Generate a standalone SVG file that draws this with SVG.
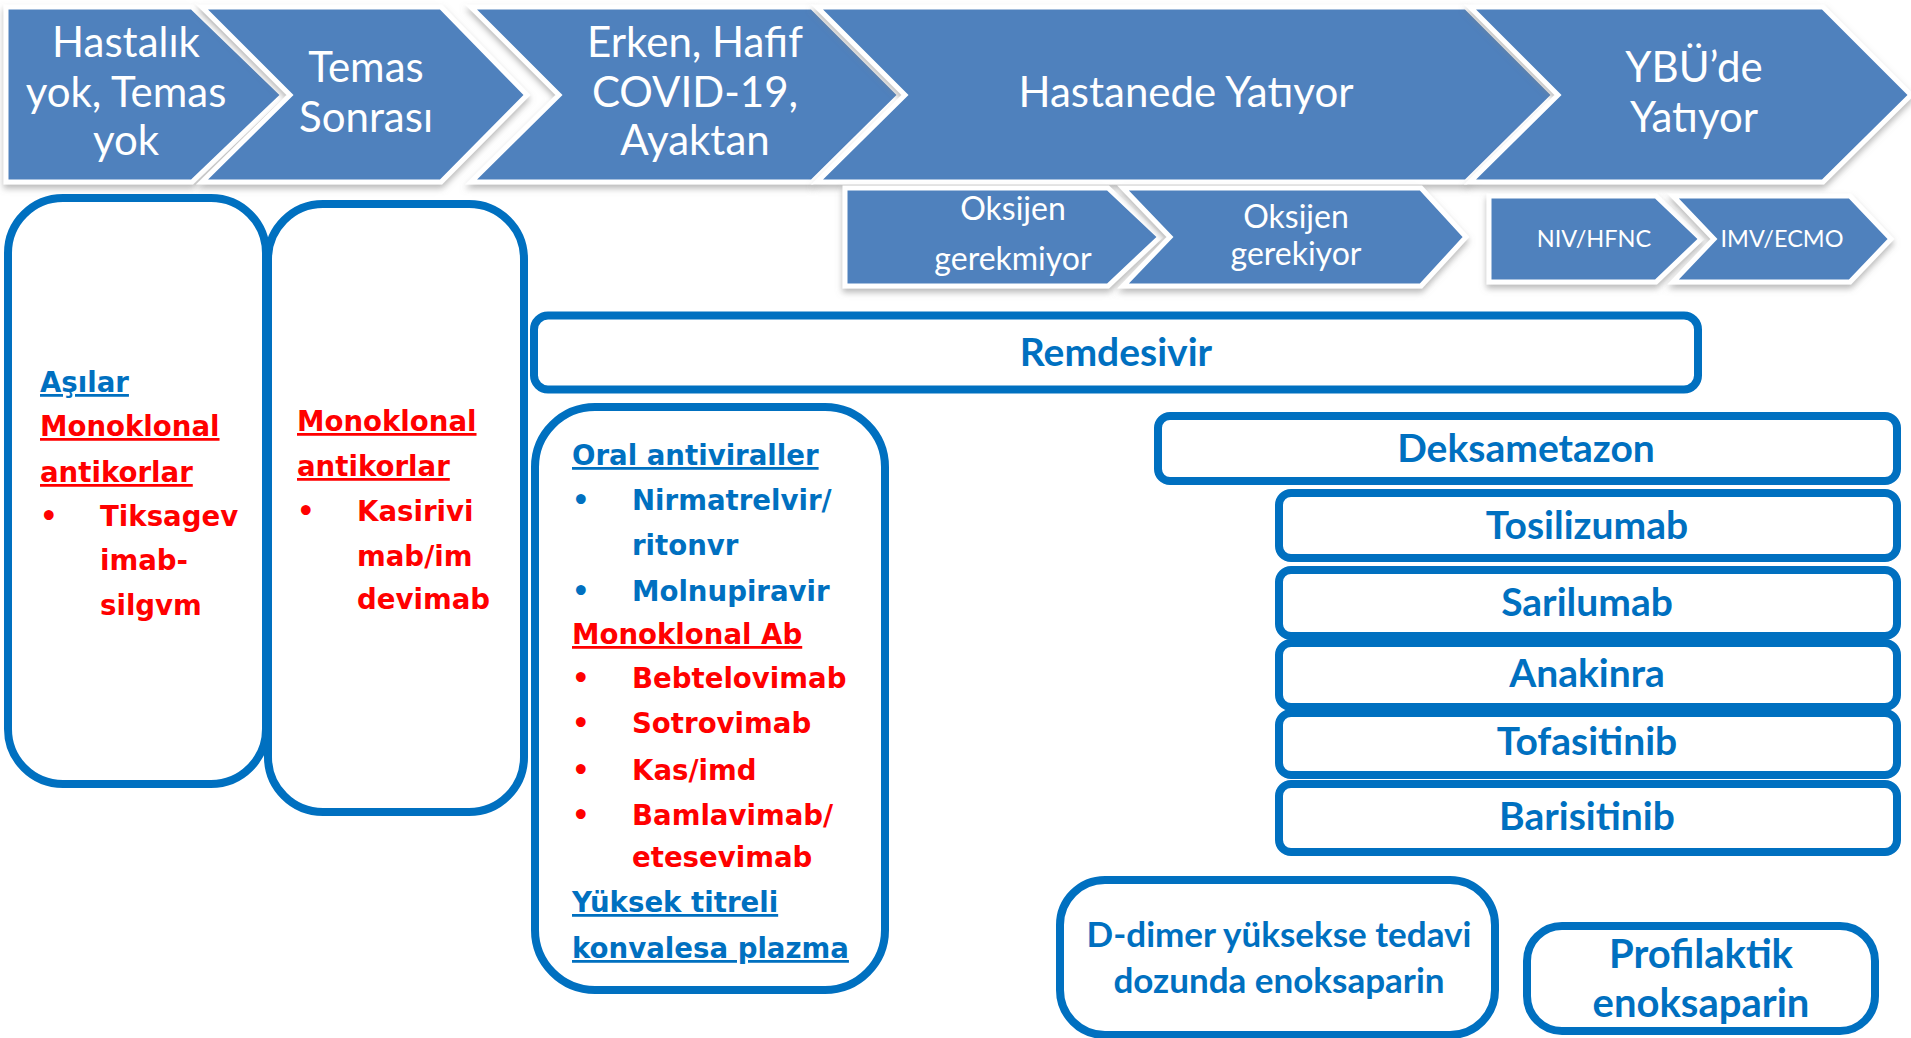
<svg xmlns="http://www.w3.org/2000/svg" width="1911" height="1038" viewBox="0 0 1911 1038">
<defs>
<filter id="sh" x="-5%" y="-10%" width="110%" height="130%">
<feDropShadow dx="0" dy="4" stdDeviation="3" flood-color="#808080" flood-opacity="0.55"/>
</filter>
<style>
.chev{fill:#4F81BD;stroke:#FFFFFF;stroke-width:5;stroke-linejoin:miter;filter:url(#sh)}
.ct{font-family:Lato,"Open Sans",sans-serif;fill:#FFFFFF;text-anchor:middle}
.big{font-size:42px}
.mid{font-size:32px}
.sm{font-size:23.5px}
.box{fill:#FFFFFF;stroke:#0070C0;stroke-width:8}
.bt{font-family:Lato,"Open Sans",sans-serif;font-weight:bold;fill:#0070C0;text-anchor:middle;font-size:39px}
.lt{font-family:"DejaVu Sans",Verdana,sans-serif;font-weight:bold;font-size:27.6px}
.blue{fill:#0070C0}
.red{fill:#FF0000}
.u{text-decoration:underline}
</style>
</defs>
<rect width="1911" height="1038" fill="#FFFFFF"/>

<g id="phase-hastalik-yok">
<polygon class="chev" points="6,7 192,7 283,95 192,182 6,182"/>
<text class="ct big" x="126" y="57">Hastalık</text>
<text class="ct big" x="126" y="107">yok, Temas</text>
<text class="ct big" x="126" y="155">yok</text>
</g>
<g id="phase-temas-sonrasi">
<polygon class="chev" points="202,7 441,7 527,95 441,182 202,182 290,95"/>
<text class="ct big" x="366" y="82">Temas</text>
<text class="ct big" x="366" y="132">Sonrası</text>
</g>
<g id="phase-erken">
<polygon class="chev" points="471,7 812,7 900,95 812,182 471,182 559,95"/>
<text class="ct big" x="695" y="57">Erken, Hafif</text>
<text class="ct big" x="695" y="107">COVID-19,</text>
<text class="ct big" x="695" y="155">Ayaktan</text>
</g>
<g id="phase-hastanede">
<polygon class="chev" points="817,7 1466,7 1554,95 1466,182 817,182 905,95"/>
<text class="ct big" x="1186" y="107">Hastanede Yatıyor</text>
</g>
<g id="phase-ybu">
<polygon class="chev" points="1470,7 1823,7 1911,95 1823,182 1470,182 1558,95"/>
<text class="ct big" x="1694" y="82">YBÜ’de</text>
<text class="ct big" x="1694" y="132">Yatıyor</text>
</g>

<g id="sub-oksijen-gerekmiyor">
<polygon class="chev" points="845,188 1108,188 1160,237 1108,286 845,286"/>
<text class="ct mid" x="1013" y="220">Oksijen</text>
<text class="ct mid" x="1013" y="270">gerekmiyor</text>
</g>
<g id="sub-oksijen-gerekiyor">
<polygon class="chev" points="1123,188 1421,188 1466,237 1421,286 1123,286 1170,237"/>
<text class="ct mid" x="1296" y="228">Oksijen</text>
<text class="ct mid" x="1296" y="265">gerekiyor</text>
</g>
<g id="sub-niv-hfnc">
<polygon class="chev" points="1489,196 1656,196 1701,239 1656,282 1489,282"/>
<text class="ct sm" x="1594" y="247">NIV/HFNC</text>
</g>
<g id="sub-imv-ecmo">
<polygon class="chev" points="1673,196 1850,196 1891,239 1850,282 1673,282 1714,239"/>
<text class="ct sm" x="1782" y="247">IMV/ECMO</text>
</g>

<g id="box-asilar">
<rect class="box" x="8" y="198" width="258" height="586" rx="55"/>
<text class="lt blue u" x="40" y="392">Aşılar</text>
<text class="lt red u" x="40" y="436">Monoklonal</text>
<text class="lt red u" x="40" y="482">antikorlar</text>
<text class="lt red" x="40" y="526">•</text>
<text class="lt red" x="100" y="526">Tiksagev</text>
<text class="lt red" x="100" y="570">imab-</text>
<text class="lt red" x="100" y="615">silgvm</text>
</g>
<g id="box-temas">
<rect class="box" x="268" y="204" width="256" height="608" rx="55"/>
<text class="lt red u" x="297" y="431">Monoklonal</text>
<text class="lt red u" x="297" y="476">antikorlar</text>
<text class="lt red" x="297" y="521">•</text>
<text class="lt red" x="357" y="521">Kasirivi</text>
<text class="lt red" x="357" y="566">mab/im</text>
<text class="lt red" x="357" y="609">devimab</text>
</g>

<g id="box-remdesivir">
<rect class="box" x="534" y="315.5" width="1164" height="74" rx="14"/>
<text class="bt" x="1116" y="366">Remdesivir</text>
</g>

<g id="box-oral">
<rect class="box" x="535" y="407" width="350" height="583" rx="60"/>
<text class="lt blue u" x="572" y="465">Oral antiviraller</text>
<text class="lt blue" x="572" y="510">•</text>
<text class="lt blue" x="632" y="510">Nirmatrelvir/</text>
<text class="lt blue" x="632" y="555">ritonvr</text>
<text class="lt blue" x="572" y="601">•</text>
<text class="lt blue" x="632" y="601">Molnupiravir</text>
<text class="lt red u" x="572" y="644">Monoklonal Ab</text>
<text class="lt red" x="572" y="688">•</text>
<text class="lt red" x="632" y="688">Bebtelovimab</text>
<text class="lt red" x="572" y="733">•</text>
<text class="lt red" x="632" y="733">Sotrovimab</text>
<text class="lt red" x="572" y="780">•</text>
<text class="lt red" x="632" y="780">Kas/imd</text>
<text class="lt red" x="572" y="825">•</text>
<text class="lt red" x="632" y="825">Bamlavimab/</text>
<text class="lt red" x="632" y="867">etesevimab</text>
<text class="lt blue u" x="572" y="912">Yüksek titreli</text>
<text class="lt blue u" x="572" y="958">konvalesa plazma</text>
</g>

<g id="box-deksametazon">
<rect class="box" x="1158" y="416" width="739" height="65" rx="12"/>
<text class="bt" x="1526" y="462">Deksametazon</text>
</g>
<g id="box-tosilizumab">
<rect class="box" x="1279" y="493" width="618" height="65" rx="12"/>
<text class="bt" x="1587" y="539">Tosilizumab</text>
</g>
<g id="box-sarilumab">
<rect class="box" x="1279" y="570" width="618" height="66" rx="12"/>
<text class="bt" x="1587" y="616">Sarilumab</text>
</g>
<g id="box-anakinra">
<rect class="box" x="1279" y="643" width="618" height="64" rx="12"/>
<text class="bt" x="1587" y="687">Anakinra</text>
</g>
<g id="box-tofasitinib">
<rect class="box" x="1279" y="713" width="618" height="62" rx="12"/>
<text class="bt" x="1587" y="755">Tofasitinib</text>
</g>
<g id="box-barisitinib">
<rect class="box" x="1279" y="784" width="618" height="68" rx="12"/>
<text class="bt" x="1587" y="830">Barisitinib</text>
</g>

<g id="box-ddimer">
<rect class="box" x="1060" y="880" width="435" height="155" rx="45"/>
<text class="bt" x="1279" y="947" style="font-size:35px">D-dimer yüksekse tedavi</text>
<text class="bt" x="1279" y="993" style="font-size:35px">dozunda enoksaparin</text>
</g>
<g id="box-profilaktik">
<rect class="box" x="1527" y="926" width="348" height="105" rx="35"/>
<text class="bt" x="1701" y="968" style="font-size:40px">Profilaktik</text>
<text class="bt" x="1701" y="1017" style="font-size:40px">enoksaparin</text>
</g>

<g id="connectors"></g>
</svg>
